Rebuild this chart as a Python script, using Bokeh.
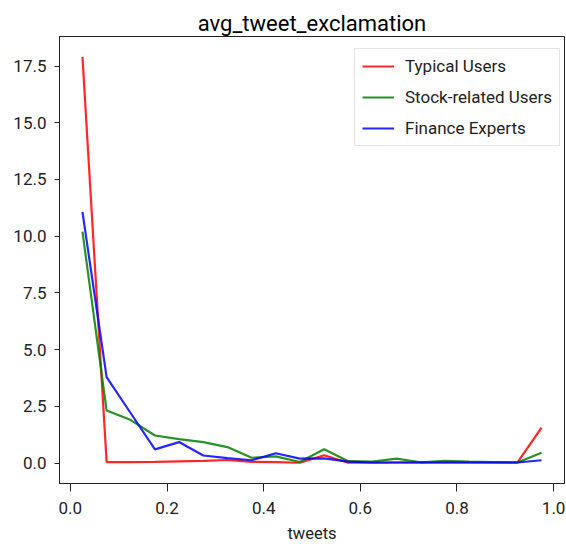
from bokeh.plotting import figure
from bokeh.models import FixedTicker, NumeralTickFormatter, Range1d, Legend, LegendItem
from bokeh.embed import file_html
from bokeh.resources import INLINE

x_vals = [0.025, 0.075, 0.125, 0.175, 0.225, 0.275, 0.325, 0.375, 0.425, 0.475,
          0.525, 0.575, 0.625, 0.675, 0.725, 0.775, 0.825, 0.875, 0.925, 0.975]
typical = [17.9, 0.05, 0.05, 0.06, 0.08, 0.10, 0.14, 0.06, 0.05, 0.02,
           0.35, 0.02, 0.02, 0.03, 0.03, 0.03, 0.03, 0.03, 0.03, 1.57]
stock = [10.2, 2.32, 1.90, 1.22, 1.06, 0.93, 0.71, 0.24, 0.30, 0.05,
         0.61, 0.09, 0.07, 0.20, 0.04, 0.10, 0.07, 0.05, 0.03, 0.46]
finance = [11.07, 3.79, 2.20, 0.61, 0.93, 0.34, 0.22, 0.13, 0.44, 0.20,
           0.21, 0.07, 0.03, 0.03, 0.03, 0.03, 0.03, 0.03, 0.03, 0.13]
series_names = ["Typical Users", "Stock-related Users", "Finance Experts"]
series_colors = ["red", "green", "blue"]
x_ticks = [0.0, 0.2, 0.4, 0.6, 0.8, 1.0]
y_ticks = [0.0, 2.5, 5.0, 7.5, 10.0, 12.5, 15.0, 17.5]

FONT = "Roboto"

p = figure(width=566, height=550, output_backend="svg", toolbar_location=None,
           x_range=Range1d(-0.0225, 1.0225), y_range=Range1d(-0.895, 18.8),
           min_border_left=59, min_border_right=2, min_border_top=36, min_border_bottom=67,
           title="avg_tweet_exclamation")

p.title.align = "center"
p.title.text_font = FONT
p.title.text_font_size = "22px"
p.title.text_font_style = "normal"
p.title.text_color = "black"
p.title.standoff = 1

p.xgrid.visible = False
p.ygrid.visible = False
p.outline_line_color = "#222222"
p.outline_line_width = 1
p.background_fill_color = "white"
p.border_fill_color = "white"

for ax in (p.xaxis[0], p.yaxis[0]):
    ax.axis_line_color = "#222222"
    ax.major_tick_line_color = "#222222"
    ax.major_tick_in = 0
    ax.minor_tick_line_color = None
    ax.major_label_text_font = FONT
    ax.major_label_text_font_size = "17px"
    ax.major_label_text_color = "#222222"

p.xaxis.major_tick_out = 8
p.yaxis.major_tick_out = 5
p.xaxis.major_label_standoff = 10
p.yaxis.major_label_standoff = 8

p.xaxis.ticker = FixedTicker(ticks=x_ticks)
p.yaxis.ticker = FixedTicker(ticks=y_ticks)
p.xaxis.formatter = NumeralTickFormatter(format="0.0")
p.yaxis.formatter = NumeralTickFormatter(format="0.0")
p.xaxis.axis_label = "tweets"
p.xaxis.axis_label_text_font = FONT
p.xaxis.axis_label_text_font_size = "16.5px"
p.xaxis.axis_label_text_font_style = "normal"
p.xaxis.axis_label_text_color = "#222222"
p.xaxis.axis_label_standoff = 7

items = []
for name, color, ys in zip(series_names, series_colors, [typical, stock, finance]):
    r = p.line(x_vals, ys, line_color=color, line_width=2.2, line_alpha=0.85)
    items.append(LegendItem(label=name, renderers=[r]))

legend = Legend(items=items, location=(295, 337))
legend.label_text_font = FONT
legend.label_text_font_size = "17px"
legend.label_text_color = "#222222"
legend.glyph_width = 32
legend.glyph_height = 20
legend.label_height = 20
legend.label_standoff = 11
legend.spacing = 11
legend.padding = 7
legend.margin = 0
legend.border_line_color = "#cccccc"
legend.border_line_width = 1
legend.background_fill_alpha = 0.8
p.add_layout(legend)

open("out.html", "w").write(file_html(p, INLINE))
